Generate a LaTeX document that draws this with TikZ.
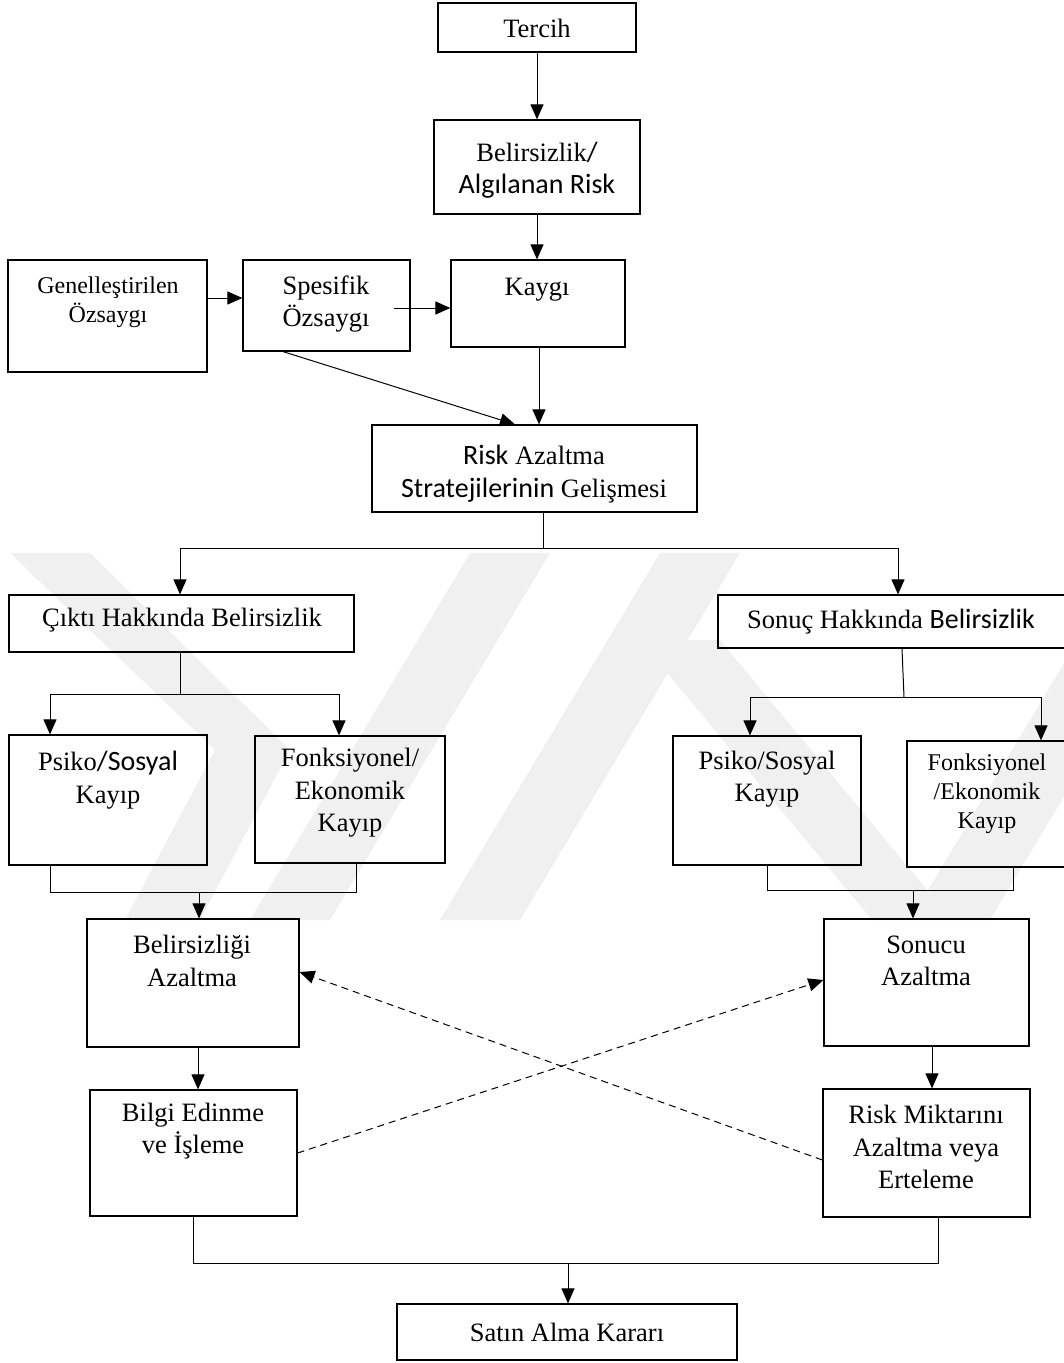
\documentclass[tikz,border=0pt]{standalone}
\usepackage{fontspec}
\setmainfont{Liberation Serif}
\newfontfamily\calib{Carlito}
\usetikzlibrary{arrows.meta}
\newcommand\cb[1]{{\calib\fontsize{28}{32.5}\selectfont #1}}

\begin{document}
\begin{tikzpicture}[x=1pt,y=-1pt,
  box/.style={draw, line width=1.2pt, inner sep=0pt},
  lbl/.style={align=center, inner sep=0pt, font=\fontsize{26.5}{32.5}\selectfont},
  lblsm/.style={align=center, inner sep=0pt, font=\fontsize{24}{29}\selectfont},
  wire/.style={line width=1pt},
  arr/.style={wire, -{Triangle[length=15pt,width=13pt]}},
  darr/.style={arr, dash pattern=on 7pt off 5pt},
  wmark/.style={fill=black!6, draw=none}
]
\useasboundingbox (0,0) rectangle (1064,1363);

% faint background emblem
\begin{scope}
\clip (0,0) rectangle (1064,1363);
\fill[wmark] (10,553) -- (90,553) -- (290,750) -- (200,920) -- (125,920) -- (215,750) -- cycle;
\fill[wmark] (470,553) -- (550,553) -- (330,920) -- (250,920) -- cycle;
\fill[wmark] (660,553) -- (740,553) -- (520,920) -- (440,920) -- cycle;
\fill[wmark] (640,640) -- (720,640) -- (952,920) -- (872,920) -- cycle;
\fill[wmark] (1130,553) -- (1210,553) -- (990,920) -- (910,920) -- cycle;
\end{scope}

% boxes
\node[box, minimum width=198pt, minimum height=49pt]  (tercih) at (537,27.5) {};
\node[box, minimum width=206pt, minimum height=94pt]  (belir)  at (537,167) {};
\node[box, minimum width=199pt, minimum height=112pt] (genel)  at (107.5,316) {};
\node[box, minimum width=167pt, minimum height=91pt]  (spes)   at (326.5,305.5) {};
\node[box, minimum width=174pt, minimum height=87pt]  (kaygi)  at (538,303.5) {};
\node[box, minimum width=325pt, minimum height=87pt]  (risk)   at (534.5,468.5) {};
\node[box, minimum width=345pt, minimum height=57pt]  (cikti)  at (181.5,623.5) {};
\node[box, minimum width=350pt, minimum height=53pt]  (sonuc)  at (893,621.5) {};
\node[box, minimum width=198pt, minimum height=130pt] (psikoL) at (108,800) {};
\node[box, minimum width=190pt, minimum height=127pt] (fonkL)  at (350,799.5) {};
\node[box, minimum width=188pt, minimum height=129pt] (psikoR) at (767,800.5) {};
\node[box, minimum width=161pt, minimum height=126pt] (fonkR)  at (987.5,804) {};
\node[box, minimum width=212pt, minimum height=128pt] (belAz)  at (193,983) {};
\node[box, minimum width=205pt, minimum height=127pt] (sonAz)  at (926.5,982.5) {};
\node[box, minimum width=207pt, minimum height=126pt] (bilgi)  at (193.5,1153) {};
\node[box, minimum width=207pt, minimum height=128pt] (riskM)  at (926.5,1153) {};
\node[box, minimum width=340pt, minimum height=56pt]  (satin)  at (567,1332) {};

% labels
\node[lbl]   (tercih-t) at (537,28)    {Tercih};
\node[lbl]   (belir-t)  at (537,170)   {Belirsizlik\cb{/}\\\cb{Algılanan Risk}};
\node[lblsm] (genel-t)  at (108,302)   {Genelleştirilen\\Özsaygı};
\node[lbl]   (spes-t)   at (326,304)   {Spesifik\\Özsaygı};
\node[lbl]   (kaygi-t)  at (537,290)   {Kaygı};
\node[lbl]   (risk-t)   at (534,474)   {\cb{Risk} Azaltma\\\cb{Stratejilerinin} Gelişmesi};
\node[lbl]   (cikti-t)  at (182,620)   {Çıktı Hakkında Belirsizlik};
\node[lbl]   (sonuc-t)  at (891,622)   {Sonuç Hakkında \cb{Belirsizlik}};
\node[lbl]   (psikoL-t) at (108,780)   {Psiko\cb{/Sosyal}\\Kayıp};
\node[lbl]   (fonkL-t)  at (350,793)   {Fonksiyonel/\\Ekonomik\\Kayıp};
\node[lbl]   (psikoR-t) at (767,779)   {Psiko/Sosyal\\Kayıp};
\node[lblsm] (fonkR-t)  at (987,794)   {Fonksiyonel\\/Ekonomik\\Kayıp};
\node[lbl]   (belAz-t)  at (192,961)   {Belirsizliği\\Azaltma};
\node[lbl]   (sonAz-t)  at (926,961)   {Sonucu\\Azaltma};
\node[lbl]   (bilgi-t)  at (193,1131)  {Bilgi Edinme\\ve İşleme};
\node[lbl]   (riskM-t)  at (926,1147)  {Risk Miktarını\\Azaltma veya\\Erteleme};
\node[lbl]   (satin-t)  at (567,1332)  {Satın Alma Kararı};

% top chain
\draw[arr] (tercih.south) -- (tercih.south |- belir.north);
\draw[arr] (belir.south) -- (belir.south |- kaygi.north);
\draw[arr] (genel.east |- 0,298) -- (spes.west |- 0,298);
\coordinate (spesout) at (394,308);
\draw[arr] (spesout) -- (kaygi.west |- spesout);
\draw[arr] ([xshift=-43.5pt]spes.south) -- ([xshift=-19.5pt]risk.north);
\draw[arr] ([xshift=1pt]kaygi.south) -- ([xshift=1pt]kaygi.south |- risk.north);

% first split
\coordinate (sp1) at (543,548);
\draw[wire] (risk.south -| sp1) -- (sp1);
\draw[arr] (sp1) -| ([xshift=-1.5pt]cikti.north);
\draw[arr] (sp1) -| ([xshift=5pt]sonuc.north);

% left branch
\coordinate (sp2) at (180,694);
\draw[wire] (cikti.south -| sp2) -- (sp2);
\draw[arr] (sp2) -| ([xshift=-58pt]psikoL.north);
\draw[arr] (sp2) -| ([xshift=-11pt]fonkL.north);

% right branch
\coordinate (sp3) at (904,697);
\draw[wire] ([xshift=9pt]sonuc.south) -- (sp3);
\draw[arr] (sp3) -| ([xshift=-17pt]psikoR.north);
\draw[arr] (sp3) -| ([xshift=53.5pt]fonkR.north);

% merges into reduction boxes
\draw[wire] ([xshift=-58pt]psikoL.south) -- ++(0,27) -| ([xshift=6pt]fonkL.south);
\coordinate (mL) at (199,892);
\draw[arr] (mL) -- (mL |- belAz.north);
\draw[wire] (psikoR.south) -- ++(0,25) -| ([xshift=25.5pt]fonkR.south);
\coordinate (mR) at (913,890);
\draw[arr] (mR) -- (mR |- sonAz.north);

\draw[arr] ([xshift=5pt]belAz.south) -- ([xshift=5pt]belAz.south |- bilgi.north);
\draw[arr] ([xshift=5.5pt]sonAz.south) -- ([xshift=5.5pt]sonAz.south |- riskM.north);

% cross links
\draw[darr] (bilgi.east |- 0,1153) -- (sonAz.west |- 0,980);
\draw[darr] (riskM.west |- 0,1160) -- (belAz.east |- 0,972);

% final decision
\draw[wire] (bilgi.south) -- ++(0,47) -| ([xshift=11.5pt]riskM.south);
\coordinate (mB) at (568,1263);
\draw[arr] (mB) -- (mB |- satin.north);
\end{tikzpicture}
\end{document}
